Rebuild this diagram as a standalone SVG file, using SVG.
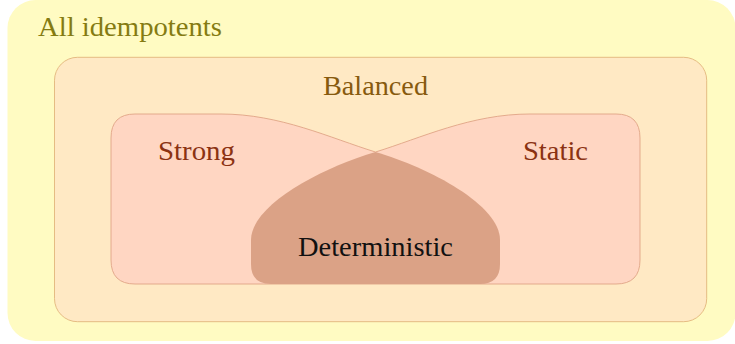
<svg xmlns="http://www.w3.org/2000/svg" width="735" height="344" viewBox="0 0 735 344">
<style>
  text { font-family: "Liberation Serif", "DejaVu Serif", serif; font-size: 28px; }
  .t-all { fill: #857b12; }
  .t-bal { fill: #875a0e; }
  .t-red { fill: #8b3212; }
  .t-det { fill: #111111; }
</style>
<rect width="735" height="344" fill="#ffffff"/>
<g id="all">
  <rect x="7.5" y="0" width="728" height="341" rx="28" ry="28" fill="#fffbc2"/>
  <text class="t-all" x="38" y="36" textLength="184" lengthAdjust="spacingAndGlyphs">All idempotents</text>
</g>
<g id="balanced">
  <rect x="54.5" y="57.3" width="652.2" height="264.4" rx="23" ry="23" fill="#ffe9c4" stroke="#e2b57c" stroke-width="0.9"/>
  <text class="t-bal" x="323" y="95" textLength="105" lengthAdjust="spacingAndGlyphs">Balanced</text>
</g>
<g id="strong-static">
  <path d="M135,114 L221,114 C280,114 330,138 375.5,152 C421,138 471,114 530,114 L616,114 Q640,114 640,138 L640,260 Q640,284 616,284 L135,284 Q111,284 111,260 L111,138 Q111,114 135,114 Z" fill="#ffd6c2" stroke="#e0a486" stroke-width="0.9"/>
  <text id="strong" class="t-red" x="158" y="160" textLength="77" lengthAdjust="spacingAndGlyphs">Strong</text>
  <text id="static" class="t-red" x="523" y="160" textLength="65" lengthAdjust="spacingAndGlyphs">Static</text>
</g>
<g id="deterministic">
  <path d="M375.5,152 C430,168 500,205 500,240 L500,264 Q500,284 480,284 L271,284 Q251,284 251,264 L251,240 C251,205 321,168 375.5,152 Z" fill="#dba286"/>
  <text class="t-det" x="298" y="256" textLength="155" lengthAdjust="spacingAndGlyphs">Deterministic</text>
</g>
</svg>
